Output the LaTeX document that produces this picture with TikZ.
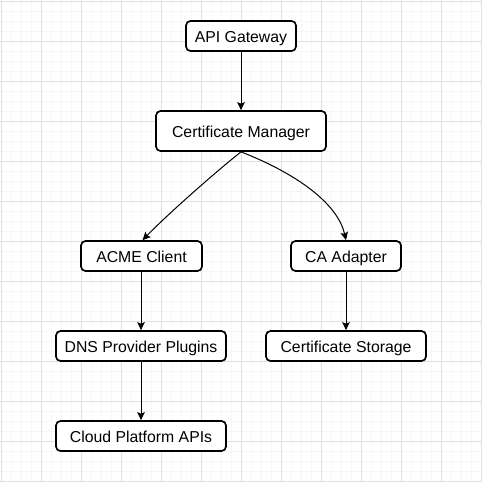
\documentclass[tikz,border=0pt]{standalone}
\usepackage{fontspec}
\setmainfont{Liberation Sans}
\usetikzlibrary{arrows.meta}
\definecolor{gridminor}{HTML}{F6F6F6}
\definecolor{gridmajor}{HTML}{E0E0E0}
\tikzset{
  box/.style={draw=black, line width=1.7pt, rounded corners=4.5pt, fill=white,
    inner sep=0pt, minimum height=30pt, text depth=0pt,
    font=\fontsize{15.8pt}{18pt}\selectfont},
  lbl/.style={yshift=-1.5pt},
  conn/.style={line width=1pt, -{Stealth[length=8pt,width=7.5pt,inset=1.5pt]}}
}
\begin{document}
\begin{tikzpicture}[x=1pt,y=-1pt]
\useasboundingbox (0,0) rectangle (482,482);
\fill[white] (0,0) rectangle (482,482);
\foreach \i in {0,...,48} {
  \draw[gridminor, line width=1pt] (1+10*\i,0) -- (1+10*\i,482);
  \draw[gridminor, line width=1pt] (0,1+10*\i) -- (482,1+10*\i);
}
\foreach \i in {0,...,12} {
  \draw[gridmajor, line width=1pt] (1+40*\i,0) -- (1+40*\i,482);
  \draw[gridmajor, line width=1pt] (0,1+40*\i) -- (482,1+40*\i);
}
\node[box, minimum width=110pt] (api) at (241,36) {\raisebox{-1.5pt}{API Gateway}};
\node[box, minimum width=170pt, minimum height=40pt] (cm) at (241,131) {\raisebox{-1.5pt}{Certificate Manager}};
\node[box, minimum width=121pt] (acme) at (141.5,256) {\raisebox{-1.5pt}{ACME Client}};
\node[box, minimum width=110pt] (ca) at (346,256) {\raisebox{-1.5pt}{CA Adapter}};
\node[box, minimum width=170pt] (dns) at (141,346) {\raisebox{-1.5pt}{DNS Provider Plugins}};
\node[box, minimum width=160pt] (store) at (346,346) {\raisebox{-1.5pt}{Certificate Storage}};
\node[box, minimum width=170pt] (cloud) at (141,436) {\raisebox{-1.5pt}{Cloud Platform APIs}};
\draw[conn] (api.south) -- (cm.south |- cm.north);
\draw[conn] (cm.south) .. controls (218,170) and (170,212) .. ([xshift=1pt]acme.north);
\draw[conn] (cm.south) .. controls (300,175) and (338,205) .. (ca.north);
\draw[conn] (acme.south -| dns.north) -- (dns.north);
\draw[conn] (ca.south) -- (ca.south |- store.north);
\draw[conn] (dns.south) -- (cloud.north);
\end{tikzpicture}
\end{document}
